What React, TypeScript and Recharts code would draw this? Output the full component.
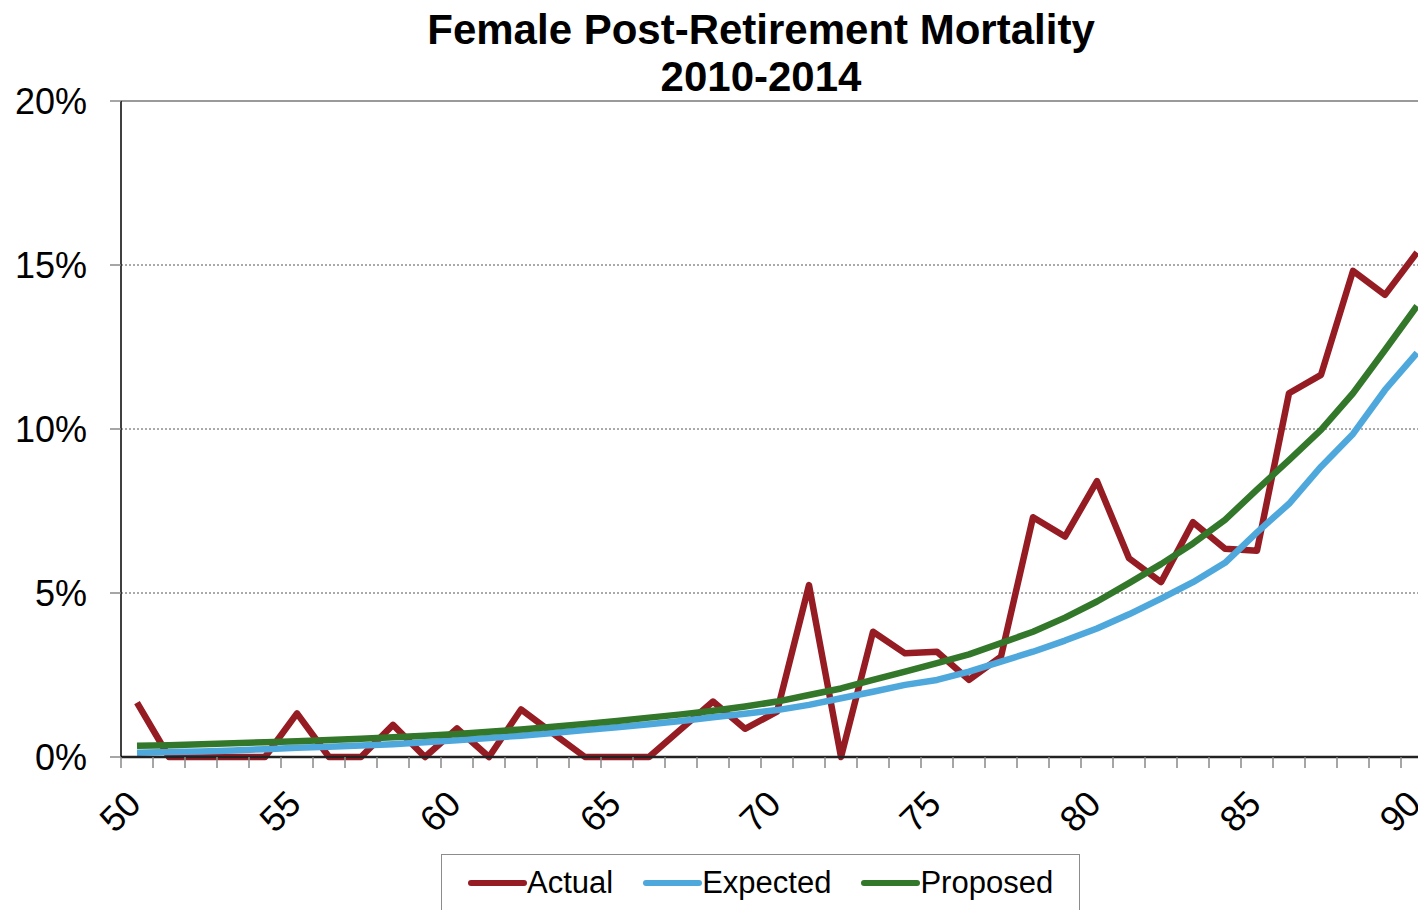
import { CartesianGrid, Legend, Line, LineChart, ReferenceLine, XAxis, YAxis } from 'recharts';

const ages = [
  50, 51, 52, 53, 54, 55, 56, 57, 58, 59, 60, 61, 62, 63, 64, 65, 66, 67, 68, 69, 70,
  71, 72, 73, 74, 75, 76, 77, 78, 79, 80, 81, 82, 83, 84, 85, 86, 87, 88, 89, 90,
];

// mortality rates in %
const actual = [
  1.66, 0, 0, 0, 0, 1.33, 0, 0, 0.98, 0, 0.87, 0, 1.45, 0.72, 0, 0, 0, 0.85, 1.69, 0.86, 1.38,
  5.24, 0, 3.82, 3.16, 3.21, 2.35, 3.06, 7.31, 6.72, 8.41, 6.06, 5.33, 7.16, 6.35, 6.29, 11.09,
  11.65, 14.82, 14.09, 15.38,
];
const expected = [
  0.13, 0.15, 0.17, 0.2, 0.24, 0.28, 0.31, 0.35, 0.39, 0.45, 0.51, 0.58, 0.65, 0.73, 0.82, 0.91,
  1.0, 1.1, 1.21, 1.32, 1.43, 1.59, 1.79, 1.99, 2.2, 2.35, 2.6, 2.91, 3.21, 3.55, 3.92, 4.35,
  4.83, 5.33, 5.92, 6.85, 7.72, 8.85, 9.85, 11.19, 12.32,
];
const proposed = [
  0.34, 0.36, 0.39, 0.42, 0.45, 0.48, 0.52, 0.56, 0.6, 0.65, 0.7, 0.77, 0.84, 0.92, 1.01, 1.1,
  1.2, 1.3, 1.41, 1.54, 1.69, 1.89, 2.09, 2.35, 2.6, 2.86, 3.13, 3.47, 3.82, 4.25, 4.74, 5.3,
  5.88, 6.51, 7.23, 8.15, 9.05, 9.97, 11.09, 12.41, 13.75,
];
const yTicks = [0, 5, 10, 15, 20];

const series = [
  { key: 'actual', name: 'Actual', color: '#961c24' },
  { key: 'expected', name: 'Expected', color: '#4fa8dc' },
  { key: 'proposed', name: 'Proposed', color: '#33782a' },
];

const data = ages.map((age, i) => ({
  age,
  actual: actual[i],
  expected: expected[i],
  proposed: proposed[i],
}));

const font = '"Liberation Sans", Arial, sans-serif';

function AgeTick(props: any) {
  const { x, y, payload } = props;
  const age = payload.value;
  const tx = x + 6;
  const ty = y + 49;
  return (
    <g>
      <line x1={x - 16} y1={y} x2={x - 16} y2={y + 11} stroke="#888" strokeWidth={1.5} />
      {age % 5 === 0 && (
        <text
          x={tx}
          y={ty}
          textAnchor="end"
          transform={`rotate(-45 ${tx} ${ty})`}
          fontSize={36}
          fontFamily={font}
          fill="#000"
        >
          {age}
        </text>
      )}
    </g>
  );
}

function LegendBox() {
  return (
    <div
      style={{
        width: 639,
        height: 70,
        border: '1.5px solid #8c8c8c',
        boxSizing: 'border-box',
        display: 'flex',
        alignItems: 'flex-start',
        paddingTop: 10,
        paddingLeft: 25,
        fontFamily: font,
        fontSize: 31,
        lineHeight: '36px',
        color: '#000',
        background: '#fff',
      }}
    >
      {series.map((s) => (
        <div key={s.key} style={{ display: 'flex', alignItems: 'center', height: 36, marginRight: 29 }}>
          <svg width={60} height={10}>
            <line x1={4} y1={5} x2={57} y2={5} stroke={s.color} strokeWidth={6} strokeLinecap="round" />
          </svg>
          <span>{s.name}</span>
        </div>
      ))}
    </div>
  );
}

export default function App() {
  return (
    <div
      style={{
        position: 'absolute',
        left: 0,
        top: 0,
        width: 1418,
        height: 910,
        overflow: 'hidden',
        background: '#fff',
      }}
    >
      <div
        style={{
          position: 'absolute',
          left: 0,
          top: 6,
          width: 1522,
          textAlign: 'center',
          fontFamily: font,
          fontWeight: 'bold',
          fontSize: 42,
          lineHeight: '47px',
          color: '#000',
          zIndex: 2,
        }}
      >
        Female Post-Retirement Mortality
        <br />
        2010-2014
      </div>
      <LineChart
        width={1440}
        height={910}
        data={data}
        margin={{ top: 101, right: 7, bottom: 53, left: 0 }}
      >
        <CartesianGrid vertical={false} stroke="#555" strokeDasharray="2 2" />
        <ReferenceLine y={20} stroke="#9a9a9a" strokeWidth={2} />
        <XAxis
          dataKey="age"
          interval={0}
          height={100}
          padding={{ left: 16, right: 16 }}
          tickSize={0}
          tickMargin={0}
          tickLine={false}
          axisLine={{ stroke: '#222', strokeWidth: 2.5 }}
          tick={<AgeTick />}
        />
        <YAxis
          width={121}
          domain={[0, 20]}
          ticks={yTicks}
          tickFormatter={(v) => `${v}%`}
          tickSize={11}
          tickMargin={23}
          tickLine={{ stroke: '#888', strokeWidth: 1.5 }}
          axisLine={{ stroke: '#000', strokeWidth: 1.5 }}
          tick={{ fontSize: 36, fontFamily: font, fill: '#000' }}
        />
        {series.map((s) => (
          <Line
            key={s.key}
            type="linear"
            dataKey={s.key}
            name={s.name}
            stroke={s.color}
            strokeWidth={6.5}
            strokeLinejoin="round"
            dot={false}
            activeDot={false}
            isAnimationActive={false}
          />
        ))}
        <Legend
          verticalAlign="middle"
          layout="horizontal"
          wrapperStyle={{ position: 'absolute', left: 441, top: 854, width: 639 }}
          content={() => <LegendBox />}
        />
      </LineChart>
    </div>
  );
}
